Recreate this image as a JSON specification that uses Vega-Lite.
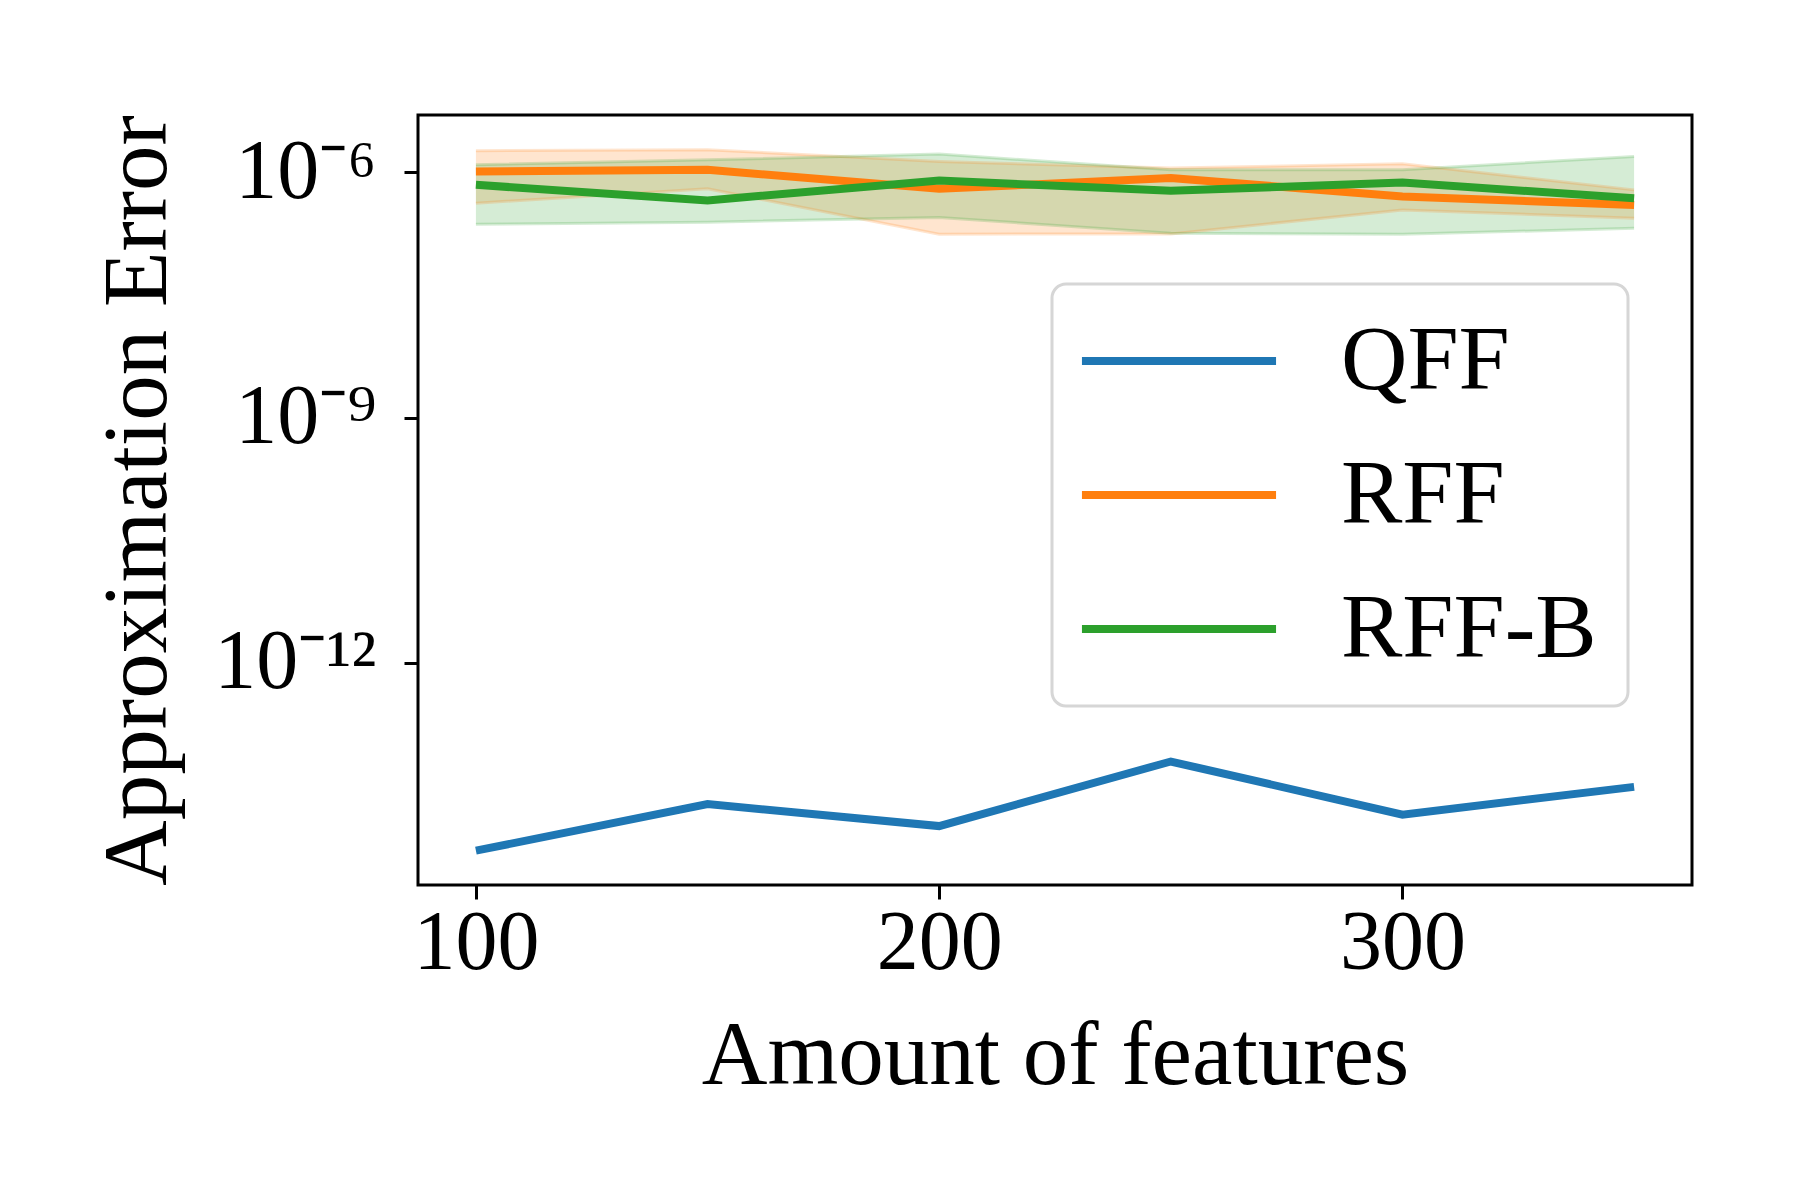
{
  "$schema": "https://vega.github.io/schema/vega-lite/v6.json",
  "width": 1274,
  "height": 770,
  "autosize": {"type": "none"},
  "padding": {"left": 418, "top": 115, "right": 108, "bottom": 315},
  "background": "white",
  "data": {
    "values": [
      {"features": 100, "method": "QFF", "err": 5.0e-15},
      {"features": 150, "method": "QFF", "err": 1.86e-14},
      {"features": 200, "method": "QFF", "err": 1.0e-14},
      {"features": 250, "method": "QFF", "err": 6.17e-14},
      {"features": 300, "method": "QFF", "err": 1.38e-14},
      {"features": 350, "method": "QFF", "err": 3.02e-14},
      {"features": 100, "method": "RFF", "err": 1.028e-6, "lo": 4.21e-7, "hi": 1.845e-6},
      {"features": 150, "method": "RFF", "err": 1.079e-6, "lo": 6.31e-7, "hi": 1.897e-6},
      {"features": 200, "method": "RFF", "err": 6.31e-7, "lo": 1.754e-7, "hi": 1.365e-6},
      {"features": 250, "method": "RFF", "err": 8.53e-7, "lo": 1.77e-7, "hi": 1.13e-6},
      {"features": 300, "method": "RFF", "err": 5.08e-7, "lo": 3.48e-7, "hi": 1.276e-6},
      {"features": 350, "method": "RFF", "err": 4.01e-7, "lo": 2.75e-7, "hi": 6.12e-7},
      {"features": 100, "method": "RFF-B", "err": 7.06e-7, "lo": 2.32e-7, "hi": 1.242e-6},
      {"features": 150, "method": "RFF-B", "err": 4.54e-7, "lo": 2.46e-7, "hi": 1.429e-6},
      {"features": 200, "method": "RFF-B", "err": 7.98e-7, "lo": 2.81e-7, "hi": 1.679e-6},
      {"features": 250, "method": "RFF-B", "err": 5.96e-7, "lo": 1.803e-7, "hi": 1.079e-6},
      {"features": 300, "method": "RFF-B", "err": 7.53e-7, "lo": 1.754e-7, "hi": 1.079e-6},
      {"features": 350, "method": "RFF-B", "err": 4.84e-7, "lo": 2.07e-7, "hi": 1.57e-6}
    ]
  },
  "encoding": {
    "x": {
      "field": "features",
      "type": "quantitative",
      "scale": {"domain": [87.5, 362.5], "nice": false, "zero": false},
      "axis": {
        "values": [100, 200, 300],
        "title": "Amount of features",
        "labelPadding": 3,
        "titleBaseline": "alphabetic",
        "titleY": 198
      }
    },
    "color": {
      "field": "method",
      "type": "nominal",
      "scale": {"domain": ["QFF", "RFF", "RFF-B"], "range": ["#1f77b4", "#ff7f0e", "#2ca02c"]},
      "legend": {
        "title": null,
        "orient": "none",
        "legendX": 634,
        "legendY": 169,
        "symbolType": "M-3,0H3",
        "symbolSize": 4186,
        "symbolOffset": 50,
        "symbolStrokeWidth": 8,
        "symbolOpacity": 1,
        "labelFontSize": 92,
        "labelLimit": 600,
        "labelOffset": 116,
        "padding": 31,
        "rowPadding": 42,
        "strokeColor": "#d6d6d6",
        "fillColor": "white",
        "cornerRadius": 14,
        "encode": {"legend": {"update": {"strokeWidth": {"value": 3}}}}
      }
    }
  },
  "layer": [
    {
      "transform": [{"filter": "isValid(datum.lo)"}],
      "mark": {"type": "area", "opacity": 0.2},
      "encoding": {
        "y": {
          "field": "lo",
          "type": "quantitative",
          "scale": {"type": "log", "domain": [1.9e-15, 5.05e-6], "nice": false},
          "axis": {
            "values": [1e-12, 1e-9, 1e-6],
            "labelExpr": "datum.value < 1e-11 ? '10⁻¹²' : datum.value < 1e-8 ? '10⁻⁹' : '10⁻⁶'",
            "labelPadding": 28,
            "title": "Approximation Error",
            "titleBaseline": "alphabetic",
            "titleX": -253,
            "titleY": 385
          }
        },
        "y2": {"field": "hi"}
      }
    },
    {
      "transform": [{"filter": "isValid(datum.lo)"}],
      "mark": {"type": "line", "strokeWidth": 3, "opacity": 0.2},
      "encoding": {
        "y": {"field": "lo", "type": "quantitative"}
      }
    },
    {
      "transform": [{"filter": "isValid(datum.hi)"}],
      "mark": {"type": "line", "strokeWidth": 3, "opacity": 0.2},
      "encoding": {
        "y": {"field": "hi", "type": "quantitative"}
      }
    },
    {
      "mark": {"type": "line", "strokeWidth": 8},
      "encoding": {
        "y": {"field": "err", "type": "quantitative"}
      }
    }
  ],
  "config": {
    "font": "Liberation Serif",
    "view": {"stroke": "black", "strokeWidth": 3},
    "axis": {
      "domain": false,
      "grid": false,
      "labelFont": "Liberation Serif",
      "labelFontSize": 84,
      "labelColor": "black",
      "titleFont": "Liberation Serif",
      "titleFontSize": 91,
      "titleFontWeight": "normal",
      "titleColor": "black",
      "tickColor": "black",
      "tickWidth": 3,
      "tickSize": 14
    },
    "legend": {
      "labelFont": "Liberation Serif",
      "labelColor": "black"
    }
  }
}
